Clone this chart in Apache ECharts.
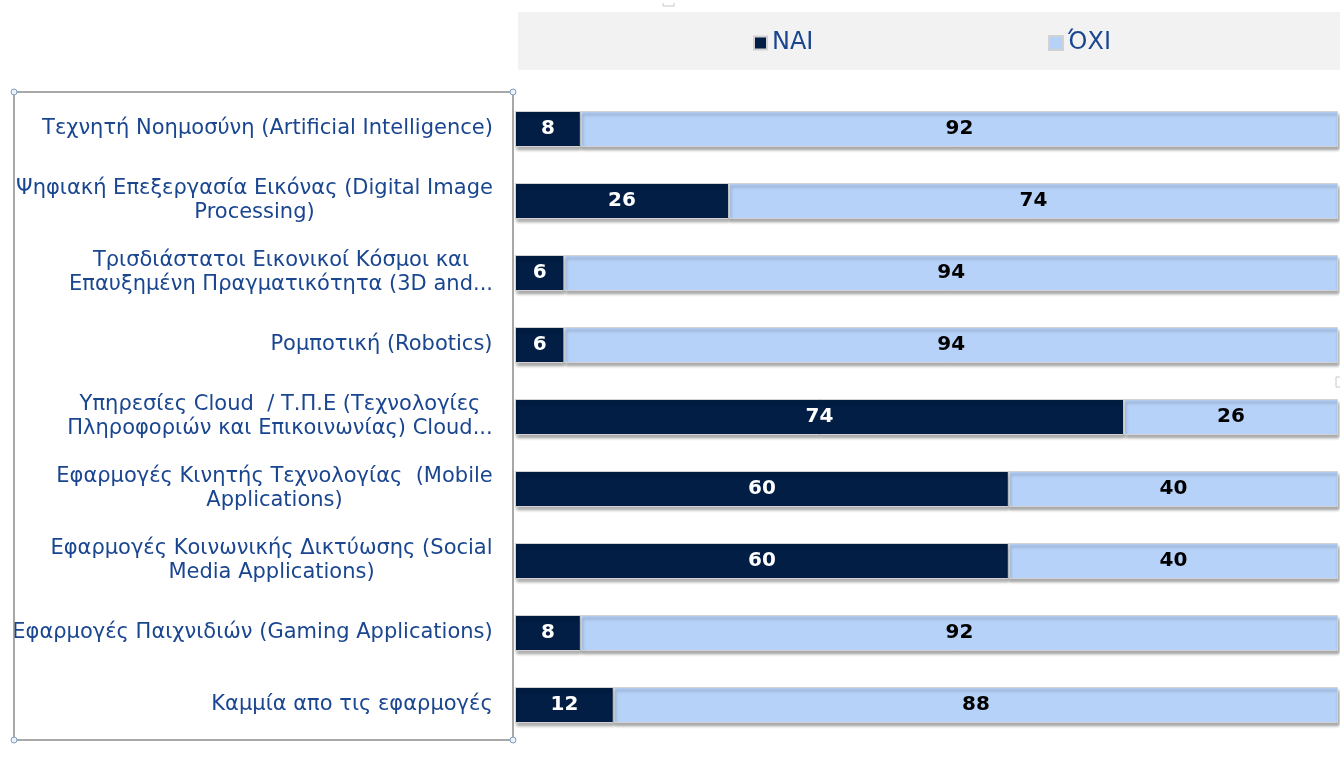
<!DOCTYPE html>
<html lang="el">
<head>
    <meta charset="UTF-8">
    <title>Εφαρμογές</title>
    <script type="text/javascript" src="https://cdn.jsdelivr.net/npm/echarts@6/dist/echarts.min.js"></script>
    <style>
        html, body { margin: 0; padding: 0; background: #fff; }
        #main { width: 1340px; height: 757px; }
    </style>
</head>
<body>
<div id="main"></div>
<script type="text/javascript">
    var categories = [
        'Τεχνητή Νοημοσύνη (Artificial Intelligence)',
        'Ψηφιακή Επεξεργασία Εικόνας (Digital Image\nProcessing)',
        'Τρισδιάστατοι Εικονικοί Κόσμοι και\nΕπαυξημένη Πραγματικότητα (3D and...',
        'Ρομποτική (Robotics)',
        'Υπηρεσίες Cloud  / Τ.Π.Ε (Τεχνολογίες\nΠληροφοριών και Επικοινωνίας) Cloud...',
        'Εφαρμογές Κινητής Τεχνολογίας  (Mobile\nApplications)',
        'Εφαρμογές Κοινωνικής Δικτύωσης (Social\nMedia Applications)',
        'Εφαρμογές Παιχνιδιών (Gaming Applications)',
        'Καμμία απο τις εφαρμογές'
    ];
    var naiValues = [8, 26, 6, 6, 74, 60, 60, 8, 12];
    var oxiValues = [92, 74, 94, 94, 26, 40, 40, 92, 88];
    var seriesNames = ['NAI', 'ΌΧΙ'];

    var labelSize = 21;
    var labelColor = '#1A4690';

    // wrapped labels: lines centred inside a block that sits right-aligned
    var ctx = document.createElement('canvas').getContext('2d');
    ctx.font = labelSize + 'px "DejaVu Sans"';
    var rich = {};
    categories.forEach(function (c, i) {
        var w = 0;
        c.split('\n').forEach(function (l) { w = Math.max(w, ctx.measureText(l).width); });
        rich['c' + i] = {
            width: Math.ceil(w), align: 'center', fontSize: labelSize,
            fontFamily: 'DejaVu Sans', color: labelColor, lineHeight: 24
        };
    });

    var mychart = echarts.init(document.getElementById('main'));

    var barStyle = function (color) {
        return {
            color: color,
            borderColor: '#D2D2D2',
            borderWidth: 1,
            shadowColor: 'rgba(0,0,0,0.35)',
            shadowBlur: 3,
            shadowOffsetX: 1,
            shadowOffsetY: 3
        };
    };

    var handle = function (x, y) {
        return {
            type: 'circle', shape: { cx: x, cy: y, r: 3 },
            style: { fill: '#EAF1F8', stroke: '#7F9DB9', lineWidth: 1 }, z: 10
        };
    };

    var legendText = { color: labelColor, fontSize: 24, fontFamily: 'DejaVu Sans' };

    var option = {
        animation: false,
        textStyle: { fontFamily: 'DejaVu Sans' },
        graphic: [
            { type: 'rect', shape: { x: 518, y: 12, width: 822, height: 58 }, style: { fill: '#F2F2F2' }, z: -1 },
            { type: 'rect', shape: { x: 14, y: 92, width: 499, height: 648 }, style: { fill: 'none', stroke: '#8C8C8C', lineWidth: 1.5 }, z: 5 },
            handle(14, 92), handle(513, 92), handle(14, 740), handle(513, 740),
            { type: 'polyline', shape: { points: [[663, 3], [663, 6], [674, 6], [674, 3]] }, style: { fill: 'none', stroke: '#C8C8C8', lineWidth: 1 } },
            { type: 'polyline', shape: { points: [[1340, 377], [1336, 377], [1336, 387], [1340, 387]] }, style: { fill: 'none', stroke: '#C8C8C8', lineWidth: 1 } }
        ],
        legend: [{
            data: [seriesNames[0]],
            left: 748, top: 26,
            icon: 'rect', itemWidth: 13, itemHeight: 13, itemGap: 0,
            textStyle: legendText
        }, {
            data: [seriesNames[1]],
            left: 1043, top: 26,
            icon: 'rect', itemWidth: 14, itemHeight: 14, itemGap: 0,
            textStyle: legendText
        }],
        grid: { left: 515, right: 2, top: 93, height: 648, containLabel: false },
        xAxis: {
            type: 'value', min: 0, max: 100, show: false
        },
        yAxis: {
            type: 'category',
            data: categories,
            inverse: true,
            axisLine: { show: false },
            axisTick: { show: false },
            splitLine: { show: false },
            axisLabel: {
                margin: 22,
                align: 'right',
                formatter: function (value, idx) {
                    return value.split('\n').map(function (l) {
                        return '{c' + idx + '|' + l + '}';
                    }).join('\n');
                },
                rich: rich
            }
        },
        series: [{
            name: seriesNames[0],
            type: 'bar',
            stack: 'total',
            barWidth: 36,
            data: naiValues,
            itemStyle: barStyle('#021E44'),
            label: {
                show: true, position: 'inside', color: '#fff',
                fontWeight: 'bold', fontSize: 20, fontFamily: 'DejaVu Sans'
            }
        }, {
            name: seriesNames[1],
            type: 'bar',
            stack: 'total',
            barWidth: 36,
            data: oxiValues,
            itemStyle: barStyle('#B7D2F8'),
            label: {
                show: true, position: 'inside', color: '#000',
                fontWeight: 'bold', fontSize: 20, fontFamily: 'DejaVu Sans'
            }
        }]
    };
    mychart.setOption(option);
</script>
</body>
</html>
